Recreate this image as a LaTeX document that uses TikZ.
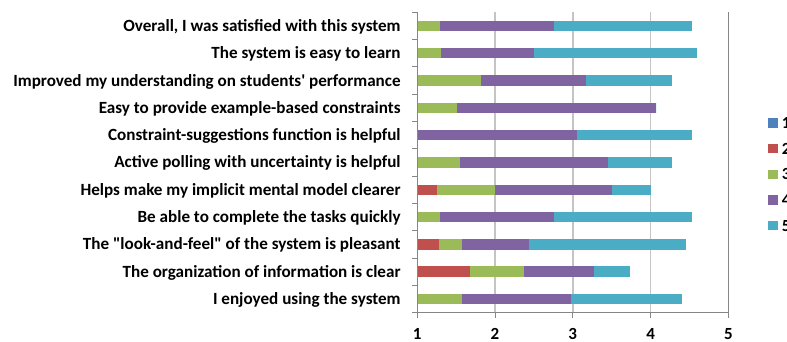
\documentclass[tikz,border=0pt]{standalone}
\usepackage{fontspec}
\setmainfont{Carlito}[Ligatures=TeXOff]
\definecolor{cOne}{HTML}{4F81BD}
\definecolor{cTwo}{HTML}{C0504D}
\definecolor{cThree}{HTML}{9BBB59}
\definecolor{cFour}{HTML}{8064A2}
\definecolor{cFive}{HTML}{4BACC6}
\definecolor{gridc}{HTML}{C4C4C4}
\definecolor{axisc}{HTML}{868686}
\tikzset{
  catlab/.style={font=\bfseries\fontsize{17.1}{20}\selectfont, anchor=base east, inner sep=0pt},
  ticklab/.style={font=\bfseries\fontsize{17}{20}\selectfont, anchor=base, inner sep=0pt},
  leglab/.style={font=\bfseries\fontsize{17}{20}\selectfont, anchor=base west, inner sep=0pt},
  gridline/.style={draw=gridc, line width=1.6pt},
  axisline/.style={draw=axisc, line width=1pt},
}
\newcommand{\vx}[1]{417.3+(#1-1)*77.75}
\begin{document}
\begin{tikzpicture}[x=1pt,y=-1pt]
\useasboundingbox[fill=white] (0,0) rectangle (787,341);
% gridlines
\foreach \g in {2,3,4} {
  \draw[gridline] ({\vx{\g}},12.3) -- ({\vx{\g}},312.7);
}
\draw[axisline] ({\vx{5}},12.3) -- ({\vx{5}},312.7);
% bars
\foreach \ii/\rr/\gg/\pp/\cc in {
  0/1/1.29/2.76/4.53,
  1/1/1.30/2.50/4.60,
  2/1/1.82/3.17/4.27,
  3/1/1.51/4.07/4.07,
  4/1/1/3.06/4.53,
  5/1/1.55/3.45/4.27,
  6/1.25/2.00/3.50/4.00,
  7/1/1.29/2.76/4.53,
  8/1.28/1.57/2.44/4.46,
  9/1.68/2.37/3.27/3.73,
  10/1/1.57/2.98/4.40} {
  \pgfmathsetmacro{\yc}{12.3+27.3*(\ii+0.5)}
  \fill[cTwo] ({\vx{1}},\yc-5.2) rectangle ({\vx{\rr}},\yc+5.2);
  \fill[cThree] ({\vx{\rr}},\yc-5.2) rectangle ({\vx{\gg}},\yc+5.2);
  \fill[cFour] ({\vx{\gg}},\yc-5.2) rectangle ({\vx{\pp}},\yc+5.2);
  \fill[cFive] ({\vx{\pp}},\yc-5.2) rectangle ({\vx{\cc}},\yc+5.2);
}
% axes
\draw[axisline] ({\vx{1}},12.3) -- ({\vx{1}},312.7) -- ({\vx{5}},312.7);
\foreach \kk in {0,...,11} {
  \draw[axisline] (412.3,{12.3+27.3*\kk}) -- (417.3,{12.3+27.3*\kk});
}
\foreach \g in {1,...,5} {
  \draw[axisline] ({\vx{\g}},312.7) -- ({\vx{\g}},318.3);
  \node[ticklab] (t\g) at ({\vx{\g}},339.3) {\g};
}
% category labels
\foreach \ii/\txt in {
  0/{Overall, I was satisfied with this system\ },
  1/{The system is easy to learn},
  2/{Improved my understanding on students' performance},
  3/{Easy to provide example-based constraints},
  4/{Constraint-suggestions function is helpful},
  5/{Active polling with uncertainty is helpful},
  6/{Helps make my implicit mental model clearer},
  7/{Be able to complete the tasks quickly\ },
  8/{The "look-and-feel" of the system is pleasant},
  9/{The organization of information is clear},
  10/{I enjoyed using the system}} {
  \node[catlab] (lab\ii) at (400.8,{12.3+27.3*(\ii+0.5)+5.5}) {\txt};
}
% legend
\foreach \kk/\col in {1/cOne,2/cTwo,3/cThree,4/cFour,5/cFive} {
  \pgfmathsetmacro{\ly}{123+25.65*(\kk-1)}
  \fill[\col] (768.3,\ly-4.7) rectangle (777.7,\ly+4.7);
  \node[leglab] (leg\kk) at (781.7,\ly+5.5) {\kk};
}
\end{tikzpicture}
\end{document}
